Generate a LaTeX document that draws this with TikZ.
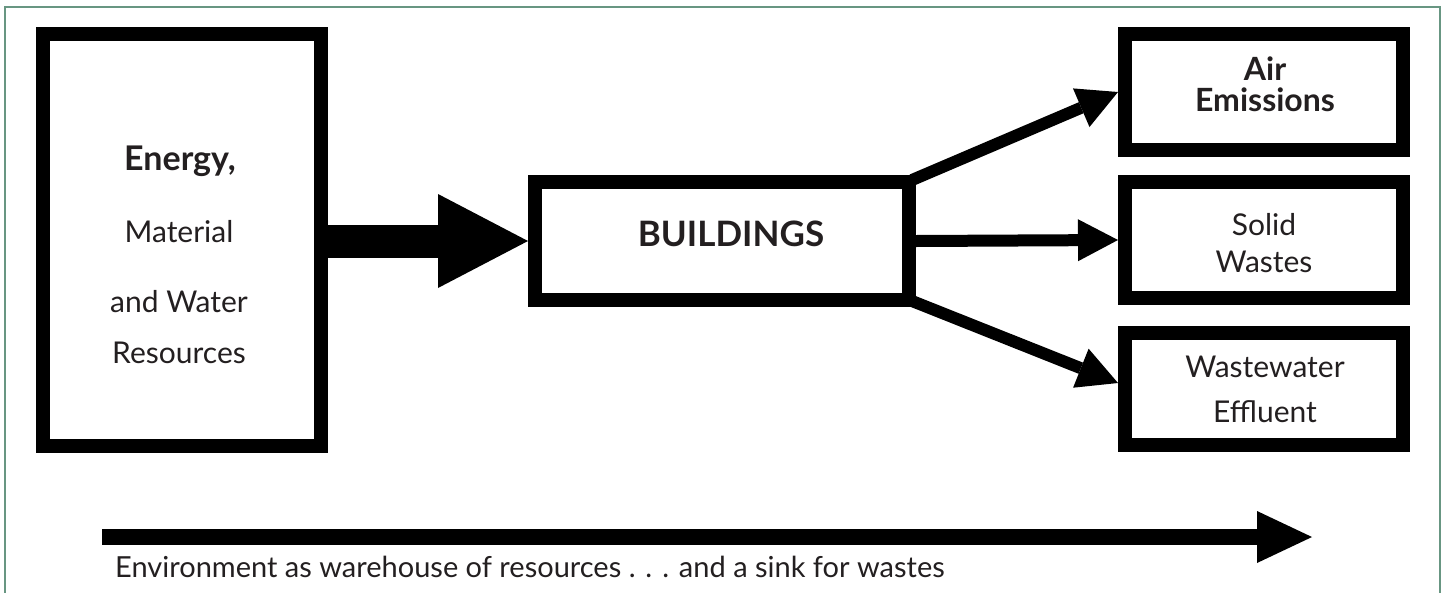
\documentclass[tikz,border=0pt]{standalone}
\usepackage{fontspec}
\setmainfont{Lato}
\usetikzlibrary{arrows.meta}
\definecolor{frame}{RGB}{104,150,130}
\definecolor{ink}{RGB}{35,31,32}
\begin{document}
\begin{tikzpicture}[x=1pt,y=-1pt,
  box/.style={draw=black,line width=14pt,minimum width=278pt,inner sep=0pt,outer sep=7pt,fill=white},
  reg/.style={font=\fontsize{30}{34}\selectfont,text=ink,anchor=base,inner sep=0pt},
  bld/.style={font=\fontsize{34}{38}\selectfont\bfseries,text=ink,anchor=base,inner sep=0pt},
  flow/.style={line width=12pt,-{Triangle[length=40pt,width=42pt,line width=0pt]}}]
\useasboundingbox (0,0) rectangle (1445,592);
\draw[frame,line width=2pt] (5,600) -- (5,7) -- (1440,7) -- (1440,600);
% boxes
\node[box,minimum height=412pt] (L) at (182,240) {};
\node[box,minimum width=374pt,minimum height=118pt] (B) at (722,241) {};
\node[box,minimum height=116pt] (A) at (1264,92) {};
\node[box,minimum height=116pt] (S) at (1264,240) {};
\node[box,minimum height=112pt] (W) at (1264,389) {};
% texts
\node[bld] (t1) at (180,170) {Energy,};
\node[reg] (t2) at (179,242) {Material};
\node[reg] (t3) at (179,312) {and Water};
\node[reg] (t4) at (179,363) {Resources};
\node[bld,font=\fontsize{35}{38}\selectfont\bfseries] (tb) at (731,246) {BUILDINGS};
\node[bld,font=\fontsize{32}{36}\selectfont\bfseries] (ta1) at (1265,80) {Air};
\node[bld,font=\fontsize{32}{36}\selectfont\bfseries] (ta2) at (1265,111) {Emissions};
\node[reg] (ts1) at (1264,235) {Solid};
\node[reg] (ts2) at (1264,272) {Wastes};
\node[reg] (tw1) at (1265,377) {Wastewater};
\node[reg] (tw2) at (1265,422) {Effluent};
% arrows
\draw[line width=33pt,-{Triangle[length=90pt,width=94pt,line width=0pt]}] (L.east |- B.west) -- (B.west);
\draw[flow] ([xshift=-4pt,yshift=-5pt]B.north east) -- (A.west);
\draw[flow] (B.east) -- (S.west);
\draw[flow] ([xshift=-4pt,yshift=6pt]B.south east) -- ([yshift=6pt]W.west);
% environment arrow
\coordinate (e0) at (102,537);
\coordinate (e1) at (1312,537);
\draw[line width=16pt,-{Triangle[length=55pt,width=52pt,line width=0pt]}] (e0) -- (e1);
\node[reg,anchor=base west,font=\fontsize{29}{33}\selectfont] (env) at (115,577) {Environment as warehouse of resources . . . and a sink for wastes};
\end{tikzpicture}
\end{document}
